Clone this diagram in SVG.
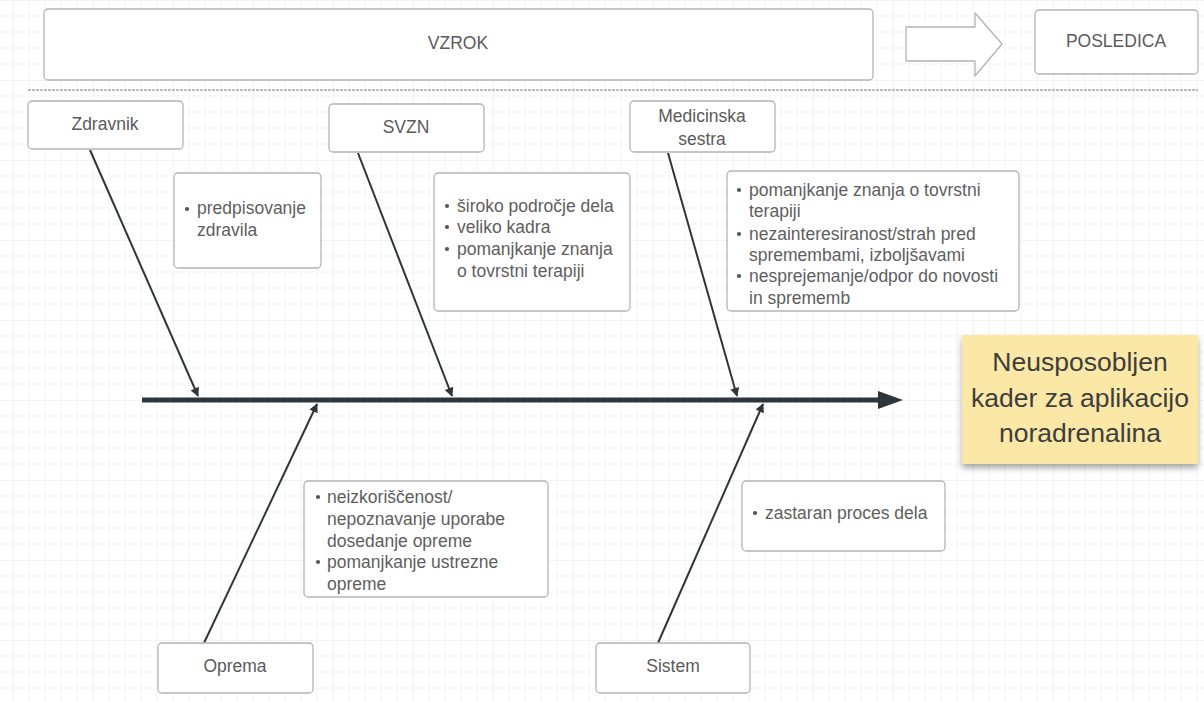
<svg xmlns="http://www.w3.org/2000/svg" width="1204" height="702" viewBox="0 0 1204 702">
<style>
.box{fill:#fff;stroke:#b4b4b4;stroke-width:1.3}
.t{font-family:"Liberation Sans",Arial,sans-serif;font-size:17.5px;fill:#5a5a5a}
.c{text-anchor:middle}
.d{font-family:"Liberation Sans",Arial,sans-serif;font-size:17.5px;fill:#5e5e5e}
.bul{fill:#555}
.bone{stroke:#2f353c;stroke-width:2;fill:none}
.sticky{font-family:"Liberation Sans",Arial,sans-serif;font-size:26.5px;fill:#3e3e3e;text-anchor:middle}
</style>
<defs>
<pattern id="grid" x="13" y="0" width="80" height="80" patternUnits="userSpaceOnUse">
<path d="M16 0V80M32 0V80M48 0V80M64 0V80M0 16H80M0 32H80M0 48H80M0 64H80" stroke="#f3f3f3" stroke-width="1" fill="none"/>
<path d="M0 0V80M0 0H80" stroke="#e8e8e8" stroke-width="1" fill="none"/>
</pattern>
<marker id="ah" viewBox="0 0 10 10" refX="9" refY="5" markerWidth="11" markerHeight="9" markerUnits="userSpaceOnUse" orient="auto">
<path d="M0 0L10 5L0 10z" fill="#2f353c"/>
</marker>
<filter id="sh" x="-10%" y="-10%" width="120%" height="130%">
<feGaussianBlur in="SourceAlpha" stdDeviation="3"/>
<feOffset dx="0" dy="4"/>
<feComponentTransfer><feFuncA type="linear" slope="0.35"/></feComponentTransfer>
<feMerge><feMergeNode/><feMergeNode in="SourceGraphic"/></feMerge>
</filter>
</defs>
<rect width="1204" height="702" fill="#fff"/>
<rect width="1204" height="702" fill="url(#grid)"/>

<g id="header">
<rect class="box" x="44" y="9" width="829" height="71" rx="4"/>
<text class="t c" x="458" y="49">VZROK</text>
<path d="M906 27H975V13L1002 44L975 76V61H906Z" fill="#fff" stroke="#b4b4b4" stroke-width="1.3" stroke-linejoin="round"/>
<rect class="box" x="1035" y="10" width="163" height="64" rx="4"/>
<text class="t c" x="1116" y="47">POSLEDICA</text>
<line x1="28" y1="90" x2="1198" y2="90" stroke="#a8a8a8" stroke-width="1.3" stroke-dasharray="3 1"/>
</g>

<g id="connectors">
<line x1="142" y1="400" x2="882" y2="400" stroke="#2f353c" stroke-width="5"/>
<path d="M878 391L903 400L878 409Z" fill="#2f353c"/>
<line class="bone" x1="90" y1="150" x2="198" y2="396" marker-end="url(#ah)"/>
<line class="bone" x1="358" y1="153" x2="452" y2="396" marker-end="url(#ah)"/>
<line class="bone" x1="668" y1="153" x2="737" y2="396" marker-end="url(#ah)"/>
<line class="bone" x1="204" y1="643" x2="317" y2="404" marker-end="url(#ah)"/>
<line class="bone" x1="658" y1="643" x2="763" y2="404" marker-end="url(#ah)"/>
</g>

<g id="zdravnik">
<rect class="box" x="28" y="101" width="155" height="48" rx="4"/>
<text class="t c" x="105" y="130">Zdravnik</text>
</g>
<g id="svzn">
<rect class="box" x="329" y="104" width="155" height="48" rx="4"/>
<text class="t c" x="406" y="133">SVZN</text>
</g>
<g id="medicinska-sestra">
<rect class="box" x="630" y="101" width="145" height="51" rx="4"/>
<text class="t c" x="702" y="122">Medicinska</text>
<text class="t c" x="702" y="145">sestra</text>
</g>
<g id="oprema">
<rect class="box" x="158" y="643" width="155" height="50" rx="4"/>
<text class="t c" x="235" y="672">Oprema</text>
</g>
<g id="sistem">
<rect class="box" x="596" y="643" width="154" height="50" rx="4"/>
<text class="t c" x="673" y="672">Sistem</text>
</g>

<g id="zdravnik-vzroki">
<rect class="box" x="174" y="173" width="147" height="95" rx="4"/>
<circle class="bul" cx="187" cy="209" r="2.1"/>
<text class="d" x="197" y="214">predpisovanje</text>
<text class="d" x="197" y="236">zdravila</text>
</g>
<g id="svzn-vzroki">
<rect class="box" x="434" y="173" width="196" height="138" rx="4"/>
<circle class="bul" cx="447" cy="206" r="2.1"/>
<text class="d" x="457" y="212">široko področje dela</text>
<circle class="bul" cx="447" cy="227" r="2.1"/>
<text class="d" x="457" y="233">veliko kadra</text>
<circle class="bul" cx="447" cy="249" r="2.1"/>
<text class="d" x="457" y="255">pomanjkanje znanja</text>
<text class="d" x="457" y="277">o tovrstni terapiji</text>
</g>
<g id="sestra-vzroki">
<rect class="box" x="727" y="171" width="292" height="140" rx="4"/>
<circle class="bul" cx="739" cy="190" r="2.1"/>
<text class="d" x="749" y="196">pomanjkanje znanja o tovrstni</text>
<text class="d" x="749" y="217">terapiji</text>
<circle class="bul" cx="739" cy="234" r="2.1"/>
<text class="d" x="749" y="240">nezainteresiranost/strah pred</text>
<text class="d" x="749" y="261">spremembami, izboljšavami</text>
<circle class="bul" cx="739" cy="276" r="2.1"/>
<text class="d" x="749" y="282">nesprejemanje/odpor do novosti</text>
<text class="d" x="749" y="304">in sprememb</text>
</g>
<g id="oprema-vzroki">
<rect class="box" x="304" y="481" width="244" height="116" rx="4"/>
<circle class="bul" cx="318" cy="497" r="2.1"/>
<text class="d" x="327" y="503">neizkoriščenost/</text>
<text class="d" x="327" y="525">nepoznavanje uporabe</text>
<text class="d" x="327" y="547">dosedanje opreme</text>
<circle class="bul" cx="318" cy="562" r="2.1"/>
<text class="d" x="327" y="568">pomanjkanje ustrezne</text>
<text class="d" x="327" y="590">opreme</text>
</g>
<g id="sistem-vzroki">
<rect class="box" x="742" y="481" width="203" height="70" rx="4"/>
<circle class="bul" cx="755" cy="513" r="2.1"/>
<text class="d" x="765" y="519">zastaran proces dela</text>
</g>

<g id="posledica">
<rect x="962" y="335" width="236" height="129" fill="#fbe8a6" filter="url(#sh)"/>
<text class="sticky" x="1080" y="371">Neusposobljen</text>
<text class="sticky" x="1080" y="407">kader za aplikacijo</text>
<text class="sticky" x="1080" y="442">noradrenalina</text>
</g>
</svg>
